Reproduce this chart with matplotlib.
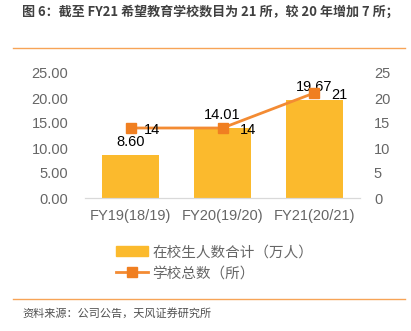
import matplotlib.pyplot as plt
from matplotlib.lines import Line2D

plt.rcParams['font.family'] = ['Liberation Sans', 'Noto Sans CJK SC', 'DejaVu Sans']

# data
categories = ['FY19(18/19)', 'FY20(19/20)', 'FY21(20/21)']
students = [8.60, 14.01, 19.67]
schools = [14, 14, 21]
bar_name = '在校生人数合计（万人）'
line_name = '学校总数（所）'
title = '图 6：截至 FY21 希望教育学校数目为 21 所，较 20 年增加 7 所；'
source = '资料来源：公司公告，天风证券研究所'

bar_color = '#FBBA2D'
line_color = '#F38B33'
marker_color = '#F07F21'
gray = '#666666'

fig = plt.figure(figsize=(4.11, 3.31), dpi=100)
W, H = 411, 331
ax = fig.add_axes([85 / W, 1 - 198 / H, 275 / W, 125 / H])
ax2 = ax.twinx()

x = range(len(categories))
ax.bar(x, students, width=0.62, color=bar_color, zorder=2)
ax.set_xlim(-0.5, 2.5)
ax.set_ylim(0, 25)
ax.set_yticks([0, 5, 10, 15, 20, 25])
ax.set_yticklabels(['%.2f' % v for v in [0, 5, 10, 15, 20, 25]])
ax.set_xticks(list(x))
ax.set_xticklabels(categories)
for v_x, v in zip(x, students):
    ax.text(v_x, v + 1.1, '%.2f' % v, ha='center', va='bottom', fontsize=10.5, color='black')

ax2.plot(list(x), schools, color=line_color, lw=2, marker='s', ms=7,
         markerfacecolor=marker_color, markeredgecolor=marker_color, zorder=3)
ax2.set_ylim(0, 25)
ax2.set_yticks([0, 5, 10, 15, 20, 25])
for v_x, v in zip(x, schools):
    off = 0.14 if v_x == 0 else 0.19
    ax2.text(v_x + off, v - 0.4, str(v), ha='left', va='center', fontsize=10.5)

for a in (ax, ax2):
    for s in ['top', 'left', 'right']:
        a.spines[s].set_visible(False)
    a.spines['bottom'].set_color('#D9D9D9')
    a.tick_params(length=0, labelsize=10.5, colors=gray)
ax.tick_params(axis='y', pad=12)
ax2.tick_params(axis='y', pad=10)
ax.tick_params(axis='x', pad=8)
ax.set_zorder(1)
ax2.set_zorder(2)
ax.patch.set_visible(False)

handles = [plt.Rectangle((0, 0), 1, 1, color=bar_color),
           Line2D([], [], color=line_color, lw=2, marker='s', ms=7,
                  markerfacecolor=marker_color, markeredgecolor=marker_color)]
fig.legend(handles, [bar_name, line_name], loc='upper left',
           bbox_to_anchor=(103 / W, 1 - 232 / H), frameon=False,
           prop={'family': ['Noto Sans CJK SC'], 'size': 10.5},
           labelcolor=gray, handlelength=2.2, handletextpad=0.3, labelspacing=0.5)

fig.text(22 / W, 1 - 12 / H, title, ha='left', va='center', fontsize=9.4,
         fontweight='bold', color='#404040', family=['Noto Sans CJK SC'])
fig.add_artist(Line2D([13 / W, 405 / W], [1 - 48 / H, 1 - 48 / H], color='#F7A457', lw=1))
fig.add_artist(Line2D([13 / W, 405 / W], [1 - 299 / H, 1 - 299 / H], color='#F7A457', lw=1))
fig.text(22 / W, 1 - 313 / H, source, ha='left', va='center', fontsize=8,
         color='#505050', family=['Noto Sans CJK SC'])

fig.savefig('out.png', dpi=100)
